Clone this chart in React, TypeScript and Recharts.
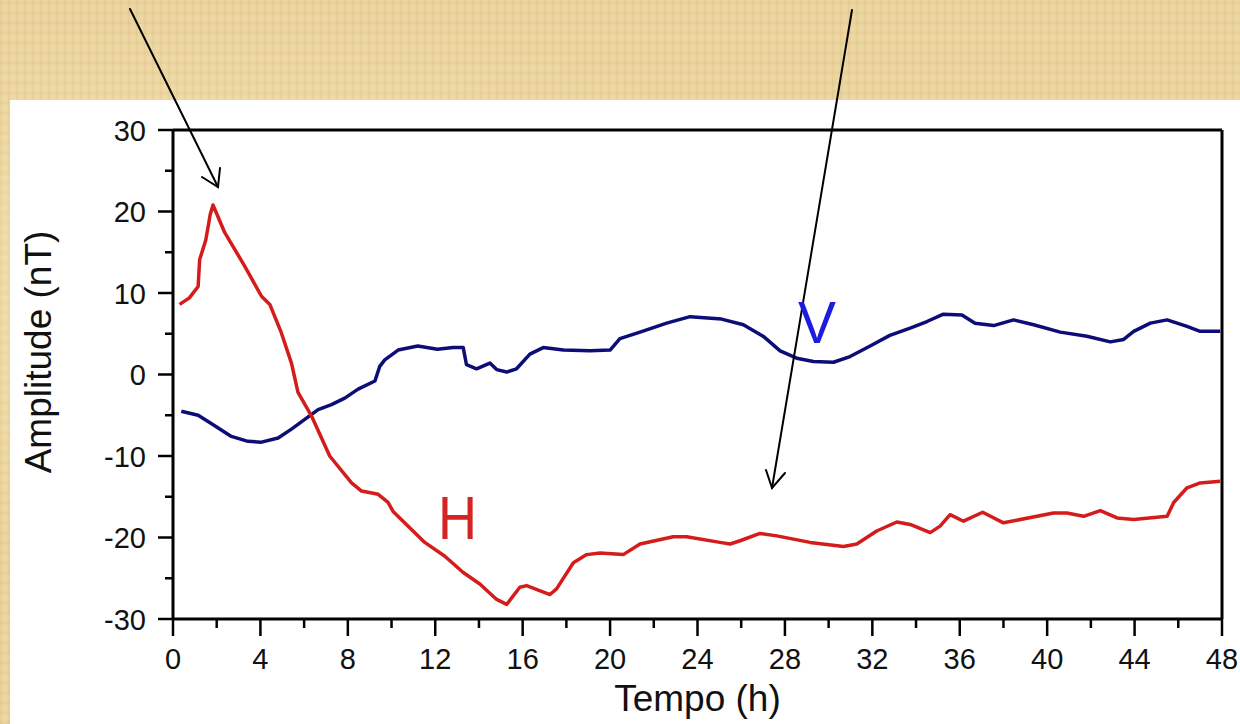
import { CartesianGrid, Line, LineChart, ReferenceLine, XAxis, YAxis } from 'recharts';

// horizontal component H (red)
const hTime = [
  0.3, 0.75, 1.15, 1.22, 1.5, 1.65, 1.7, 1.83, 2.37, 3.28, 4.05, 4.43, 4.96, 5.42, 5.72, 6.34, 7.17, 8.17, 8.63,
  9.39, 9.84, 10.07, 11.52, 12.44, 13.28, 14.04, 14.81, 15.27, 15.87, 16.18, 17.25, 17.55, 18.32, 18.93, 19.54,
  20.6, 21.37, 22.89, 23.5, 25.03, 25.49, 25.95, 26.86, 27.63, 29.15, 30.68, 31.29, 32.2, 33.12, 33.73, 34.65,
  35.1, 35.56, 36.17, 37.05, 38.0, 40.29, 40.9, 41.67, 42.43, 43.2, 43.96, 45.49, 45.79, 46.4, 47.0, 47.92,
];
const hAmp = [
  8.6, 9.4, 10.8, 14.1, 16.5, 18.8, 19.6, 20.8, 17.4, 13.3, 9.6, 8.6, 5.1, 1.4, -2.2, -5.1, -10.0, -13.3, -14.3,
  -14.7, -15.7, -16.8, -20.6, -22.3, -24.3, -25.7, -27.6, -28.2, -26.1, -25.9, -27.0, -26.3, -23.1, -22.1, -21.9,
  -22.1, -20.8, -19.9, -19.9, -20.6, -20.8, -20.4, -19.5, -19.8, -20.6, -21.1, -20.8, -19.2, -18.1, -18.4, -19.4,
  -18.6, -17.2, -18.0, -16.9, -18.2, -17.0, -17.0, -17.4, -16.7, -17.6, -17.8, -17.4, -15.7, -13.9, -13.3, -13.1,
];

// vertical component V (navy)
const vTime = [
  0.38, 1.15, 1.91, 2.67, 3.43, 4.05, 4.81, 5.42, 6.03, 6.64, 7.25, 7.86, 8.47, 9.24, 9.46, 9.69, 10.3, 11.2,
  12.1, 12.82, 13.28, 13.43, 13.89, 14.5, 14.81, 15.27, 15.72, 16.33, 16.94, 17.86, 19.08, 20.0, 20.45, 21.37,
  22.59, 23.66, 25.1, 26.1, 27.0, 27.78, 28.54, 29.3, 30.22, 30.98, 31.9, 32.8, 33.73, 34.5, 35.25, 36.1, 36.7,
  37.55, 38.46, 39.38, 40.6, 41.82, 42.89, 43.5, 43.96, 44.72, 45.49, 46.4, 47.0, 47.92,
];
const vAmp = [
  -4.5, -5.0, -6.3, -7.6, -8.2, -8.3, -7.8, -6.7, -5.5, -4.3, -3.7, -2.9, -1.8, -0.8, 1.0, 1.8, 3.0, 3.5, 3.1,
  3.3, 3.3, 1.2, 0.7, 1.4, 0.6, 0.3, 0.7, 2.5, 3.3, 3.0, 2.9, 3.0, 4.4, 5.2, 6.3, 7.1, 6.8, 6.1, 4.7, 2.9, 2.0,
  1.6, 1.5, 2.2, 3.5, 4.8, 5.7, 6.5, 7.4, 7.3, 6.3, 6.0, 6.7, 6.1, 5.2, 4.7, 4.0, 4.3, 5.3, 6.3, 6.7, 5.9, 5.3,
  5.3,
];

const xTicks = [0, 2, 4, 6, 8, 10, 12, 14, 16, 18, 20, 22, 24, 26, 28, 30, 32, 34, 36, 38, 40, 42, 44, 46, 48];
const yTicks = [-30, -25, -20, -15, -10, -5, 0, 5, 10, 15, 20, 25, 30];

const hData = hTime.map((t, i) => ({ t, amp: hAmp[i] }));
const vData = vTime.map((t, i) => ({ t, amp: vAmp[i] }));

const FONT = '"Liberation Sans", Arial, sans-serif';
const INK = '#111';

const YTick = (props: any) => {
  const { x, y, payload } = props;
  const major = payload.value % 10 === 0;
  return (
    <g>
      <line x1={x} x2={x - (major ? 15 : 8)} y1={y} y2={y} stroke="#000" strokeWidth={2.5} />
      {major && (
        <text x={x - 27} y={y} dy={10.5} textAnchor="end" fontSize={29} fontFamily={FONT} fill={INK}>
          {payload.value}
        </text>
      )}
    </g>
  );
};

const XTick = (props: any) => {
  const { x, y, payload } = props;
  const major = payload.value % 4 === 0;
  return (
    <g>
      <line x1={x} x2={x} y1={y} y2={y + (major ? 17 : 9)} stroke="#000" strokeWidth={2.5} />
      {major && (
        <text x={x} y={y + 50} textAnchor="middle" fontSize={29} fontFamily={FONT} fill={INK}>
          {payload.value}
        </text>
      )}
    </g>
  );
};

const parchment = {
  backgroundColor: '#e9d199',
  backgroundImage:
    'radial-gradient(ellipse at 20% 40%, rgba(250,235,190,0.45), rgba(250,235,190,0) 45%),' +
    'radial-gradient(ellipse at 70% 60%, rgba(200,165,95,0.25), rgba(200,165,95,0) 50%),' +
    'repeating-linear-gradient(90deg, rgba(180,140,70,0.10) 0px, rgba(180,140,70,0) 2px, rgba(255,245,215,0.14) 5px, rgba(180,140,70,0) 8px),' +
    'repeating-linear-gradient(0deg, rgba(180,140,70,0.08) 0px, rgba(180,140,70,0) 3px, rgba(255,245,215,0.12) 6px, rgba(180,140,70,0) 10px)',
};

export default function App() {
  return (
    <div style={{ position: 'absolute', left: 0, top: 0, width: 1240, height: 724, overflow: 'hidden', ...parchment }}>
      <div style={{ position: 'absolute', left: 10, top: 100, width: 1230, height: 624, background: '#fff' }}>
        <LineChart width={1230} height={624} margin={{ top: 30, right: 18, bottom: 0, left: 0 }}>
          <CartesianGrid stroke="none" />
          <XAxis
            type="number"
            dataKey="t"
            domain={[0, 48]}
            ticks={xTicks}
            interval={0}
            height={105}
            tickSize={0}
            tickMargin={0}
            tickLine={false}
            axisLine={{ stroke: '#000', strokeWidth: 3 }}
            tick={<XTick />}
            label={{
              value: 'Tempo (h)',
              position: 'insideBottom',
              offset: 13,
              style: { fontSize: 37, fontFamily: FONT, fill: INK },
            }}
          />
          <YAxis
            type="number"
            domain={[-30, 30]}
            ticks={yTicks}
            interval={0}
            width={163}
            tickSize={0}
            tickMargin={0}
            tickLine={false}
            axisLine={{ stroke: '#000', strokeWidth: 3 }}
            tick={<YTick />}
            label={{
              value: 'Amplitude (nT)',
              content: () => (
                <text
                  x={41}
                  y={252}
                  transform="rotate(-90 41 252)"
                  textAnchor="middle"
                  fontSize={37}
                  fontFamily={FONT}
                  fill={INK}
                >
                  Amplitude (nT)
                </text>
              ),
            }}
          />
          <ReferenceLine y={30} stroke="#000" strokeWidth={3} />
          <ReferenceLine x={48} stroke="#000" strokeWidth={3} />
          <Line
            data={vData}
            dataKey="amp"
            type="linear"
            stroke="#0d0d78"
            strokeWidth={3.5}
            dot={false}
            strokeLinejoin="round"
            isAnimationActive={false}
          />
          <Line
            data={hData}
            dataKey="amp"
            type="linear"
            stroke="#d41c1c"
            strokeWidth={3.5}
            dot={false}
            strokeLinejoin="round"
            isAnimationActive={false}
          />
        </LineChart>
      </div>
      {/* hand-drawn annotations over the figure */}
      <svg
        width={1240}
        height={724}
        style={{ position: 'absolute', left: 0, top: 0, pointerEvents: 'none' }}
      >
        <g stroke="#000" strokeWidth={2} fill="none" strokeLinecap="round">
          <line x1={130} y1={9} x2={218} y2={187} />
          <polyline points="202,177 218,187 220,168" />
          <line x1={852} y1={10} x2={772} y2={488} />
          <polyline points="766,470 772,488 785,473" />
        </g>
        <text x={438} y={539} fontSize={62} fontFamily={FONT} fill="#d42424" textLength={39} lengthAdjust="spacingAndGlyphs">
          H
        </text>
        <text x={798} y={343} fontSize={60} fontFamily={FONT} fill="#1c1ce0" textLength={38} lengthAdjust="spacingAndGlyphs">
          V
        </text>
      </svg>
    </div>
  );
}
